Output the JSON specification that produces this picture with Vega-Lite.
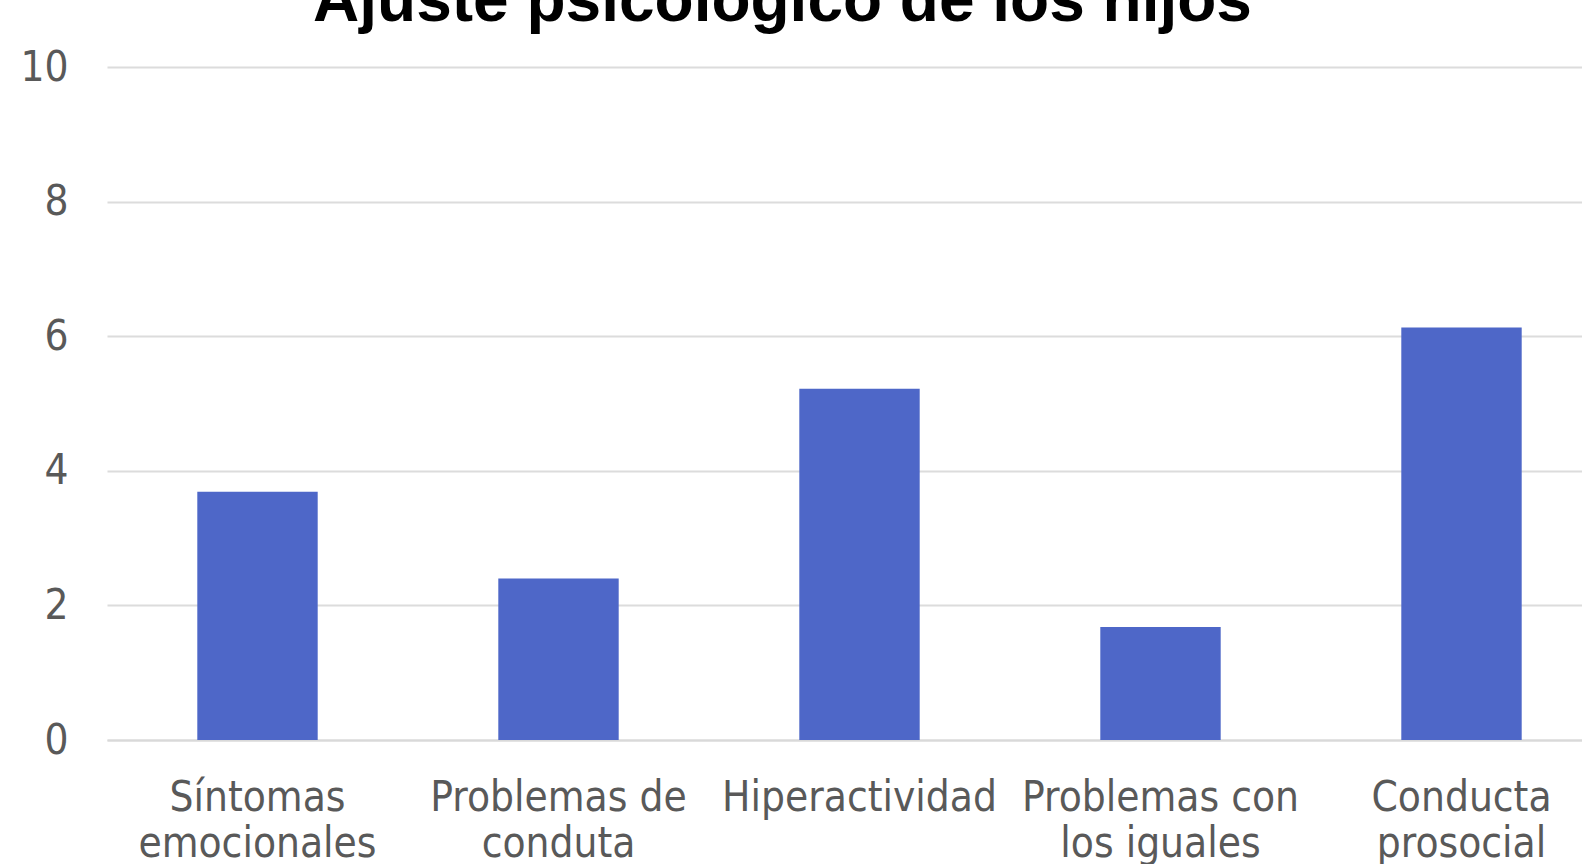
{
  "$schema": "https://vega.github.io/schema/vega-lite/v6.json",
  "autosize": "none",
  "width": 1505,
  "height": 673,
  "padding": {"left": 107, "top": 67, "right": 0, "bottom": 130},
  "background": "white",
  "config": {"view": {"stroke": null}},
  "title": {
    "text": "Ajuste psicológico de los hijos",
    "font": "Liberation Sans",
    "fontSize": 64,
    "fontWeight": "bold",
    "color": "#000000",
    "anchor": "middle",
    "frame": "group",
    "baseline": "alphabetic",
    "offset": 0,
    "dy": 39,
    "dx": -77
  },
  "data": {
    "values": [
      {"categoria": "Síntomas emocionales", "valor": 3.69},
      {"categoria": "Problemas de conduta", "valor": 2.40},
      {"categoria": "Hiperactividad", "valor": 5.22},
      {"categoria": "Problemas con los iguales", "valor": 1.68},
      {"categoria": "Conducta prosocial", "valor": 6.13}
    ]
  },
  "mark": {"type": "bar", "color": "#4e67c8"},
  "encoding": {
    "x": {
      "field": "categoria",
      "type": "nominal",
      "sort": null,
      "title": null,
      "scale": {"paddingInner": 0.6, "paddingOuter": 0.3},
      "axis": {
        "labelAngle": 0,
        "labelFont": "DejaVu Sans Condensed",
        "labelFontSize": 42,
        "labelColor": "#595959",
        "labelLineHeight": 46,
        "labelPadding": 37,
        "labelLimit": 400,
        "ticks": false,
        "domainColor": "#d9d9d9",
        "domainWidth": 2,
        "labelExpr": "datum.value == 'Síntomas emocionales' ? ['Síntomas','emocionales'] : datum.value == 'Problemas de conduta' ? ['Problemas de','conduta'] : datum.value == 'Problemas con los iguales' ? ['Problemas con','los iguales'] : datum.value == 'Conducta prosocial' ? ['Conducta','prosocial'] : datum.value"
      }
    },
    "y": {
      "field": "valor",
      "type": "quantitative",
      "title": null,
      "scale": {"domain": [0, 10]},
      "axis": {
        "values": [0, 2, 4, 6, 8, 10],
        "labelFont": "DejaVu Sans Condensed",
        "labelFontSize": 42,
        "labelColor": "#595959",
        "labelPadding": 39,
        "ticks": false,
        "domain": false,
        "gridColor": "#dcdcdc",
        "gridWidth": 2
      }
    }
  }
}
